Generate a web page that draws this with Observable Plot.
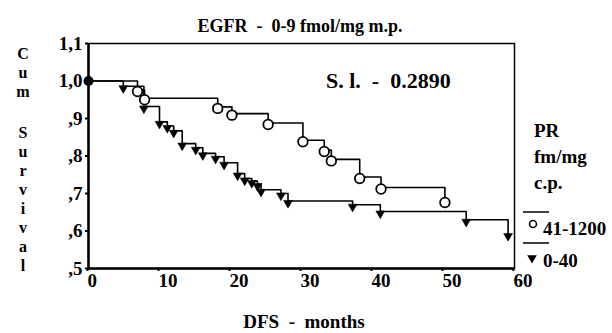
<!DOCTYPE html>
<html>
<head>
<meta charset="utf-8">
<script src="https://cdn.jsdelivr.net/npm/d3@7"></script>
<script src="https://cdn.jsdelivr.net/npm/@observablehq/plot@0.6"></script>
<style>
  html, body { margin: 0; padding: 0; background: #fff; }
  #chart { width: 612px; height: 333px; }
</style>
</head>
<body>
<div id="chart"></div>
<script>
// ---- data ----
const xTicks = [0, 10, 20, 30, 40, 50, 60];
const yTicks = [0.5, 0.6, 0.7, 0.8, 0.9, 1.0, 1.1];
const yTickLabels = [",5", ",6", ",7", ",8", ",9", "1,0", "1,1"];

// PR 41-1200 group (open circles)
const hiTimes = [0, 6.9, 7.9, 18.2, 20.2, 25.3, 30.2, 33.2, 34.2, 38.2, 41.2, 50.2];
const hiSurv  = [1.0, 0.976, 0.954, 0.931, 0.913, 0.888, 0.842, 0.816, 0.791, 0.744, 0.716, 0.680];

// PR 0-40 group (filled triangles)
const loTimes = [0, 4.9, 7.8, 10.0, 11.1, 12.0, 13.2, 15.1, 16.1, 17.9, 19.1, 21.0, 22.0, 23.0, 23.8, 24.3, 27.1, 28.1, 37.2, 41.1, 53.2, 59.1];
const loSurv  = [1.0, 0.986, 0.932, 0.891, 0.880, 0.867, 0.833, 0.822, 0.807, 0.798, 0.782, 0.753, 0.740, 0.733, 0.725, 0.710, 0.700, 0.680, 0.670, 0.652, 0.630, 0.592];

const titleText = "EGFR  -  0-9 fmol/mg m.p.";
const statText = "S. l.  -  0.2890";
const xTitle = "DFS  -  months";
const yTitleLetters = ["C", "u", "m", "S", "u", "r", "v", "i", "v", "a", "l"];
const legendTitle = ["PR", "fm/mg", "c.p."];
const legendLabels = ["41-1200", "0-40"];

// ---- build tables ----
const hi = hiTimes.map((t, i) => ({t, s: hiSurv[i]}));
const lo = loTimes.map((t, i) => ({t, s: loSurv[i]}));
const labelMap = new Map(yTicks.map((v, i) => [v.toFixed(1), yTickLabels[i]]));

const font = "'Liberation Serif', 'Times New Roman', serif";

const svg = Plot.plot({
  width: 612,
  height: 333,
  marginLeft: 88,
  marginRight: 98,
  marginTop: 43,
  marginBottom: 65,
  style: {fontFamily: font, fontSize: "19px", fontWeight: "bold", background: "white", color: "black"},
  x: {domain: [0, 60]},
  y: {domain: [0.5, 1.1]},
  marks: [
    Plot.frame({stroke: "black", strokeWidth: 1.5}),
    Plot.ruleX([0], {stroke: "black", strokeWidth: 2.5}),
    Plot.ruleY([0.5], {stroke: "black", strokeWidth: 2.5}),
    Plot.axisX({ticks: xTicks, tickSize: 3, tickPadding: 2, textAnchor: "start", dx: -1, tickFormat: d => String(d), label: null, strokeWidth: 2}),
    Plot.axisY({ticks: yTicks, tickSize: 3, tickPadding: 3, tickFormat: d => labelMap.get(d.toFixed(1)), label: null, strokeWidth: 2}),
    Plot.line(hi, {x: "t", y: "s", curve: "step-after", stroke: "black", strokeWidth: 1.6}),
    Plot.line(lo, {x: "t", y: "s", curve: "step-after", stroke: "black", strokeWidth: 1.6}),
    Plot.dot(lo.slice(1), {x: "t", y: "s", symbol: "triangle", rotate: 180, r: 3.3, fill: "black", stroke: "black", strokeWidth: 0.5, dy: 2}),
    Plot.dot(hi.slice(1), {x: "t", y: "s", symbol: "circle", r: 4.8, fill: "white", stroke: "black", strokeWidth: 1.8, dy: 1.5}),
    Plot.dot([hi[0]], {x: "t", y: "s", r: 5, fill: "black"})
  ]
});

const g = d3.select(svg).append("g")
  .attr("font-family", font)
  .attr("font-weight", "bold")
  .attr("text-anchor", "start")
  .attr("fill", "black");

g.append("text").attr("x", 300).attr("y", 32).attr("text-anchor", "middle")
  .attr("font-size", 18).text(titleText);

g.append("text").attr("x", 326).attr("y", 88)
  .attr("font-size", 22).text(statText);

g.append("text").attr("x", 304).attr("y", 328).attr("text-anchor", "middle")
  .attr("font-size", 19).text(xTitle);

const yBaselines = [59, 78, 97, 138, 157, 176, 195, 214, 233, 252, 271];
yTitleLetters.forEach((ch, i) => {
  g.append("text").attr("x", 23).attr("y", yBaselines[i]).attr("text-anchor", "middle")
    .attr("font-size", 16).text(ch);
});

const legY = [137, 163, 189];
legendTitle.forEach((txt, i) => {
  g.append("text").attr("x", 534).attr("y", legY[i]).attr("font-size", 19).text(txt);
});

g.append("line").attr("x1", 523).attr("x2", 549).attr("y1", 212).attr("y2", 212)
  .attr("stroke", "black").attr("stroke-width", 1.5);
g.append("circle").attr("cx", 533).attr("cy", 224).attr("r", 3.5)
  .attr("fill", "none").attr("stroke", "black").attr("stroke-width", 1.5);
g.append("text").attr("x", 543).attr("y", 235).attr("font-size", 19).text(legendLabels[0]);

g.append("line").attr("x1", 523).attr("x2", 549).attr("y1", 243).attr("y2", 243)
  .attr("stroke", "black").attr("stroke-width", 1.5);
g.append("path").attr("d", d3.symbol(d3.symbolTriangle, 40)())
  .attr("transform", "translate(532,258) rotate(180)").attr("fill", "black");
g.append("text").attr("x", 543).attr("y", 267).attr("font-size", 19).text(legendLabels[1]);

document.getElementById("chart").appendChild(svg);
</script>
</body>
</html>
